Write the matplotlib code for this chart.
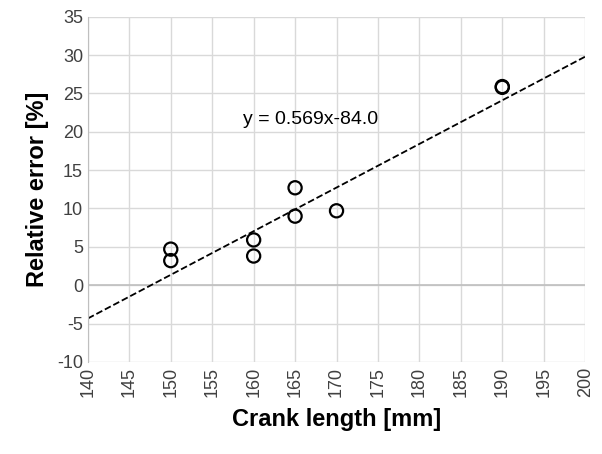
import matplotlib
matplotlib.use("Agg")
import matplotlib.pyplot as plt
import numpy as np

plt.rcParams['font.family'] = ['Liberation Sans', 'DejaVu Sans']
plt.rcParams['axes.unicode_minus'] = False

crank = [150, 150, 160, 160, 165, 165, 170, 190, 190]
err = [4.7, 3.2, 5.9, 3.8, 12.7, 9.0, 9.7, 25.8, 25.9]
slope, intercept = 0.569, -84.0
xticks = list(range(140, 201, 5))
yticks = list(range(-10, 36, 5))

fig = plt.figure(figsize=(6.02, 4.54), dpi=100)
ax = fig.add_axes([0.146, 0.203, 0.826, 0.76])
ax.set_xlim(140, 200)
ax.set_ylim(-10, 35)
ax.set_xticks(xticks)
ax.set_yticks(yticks)
ax.grid(True, color='#d9d9d9', linewidth=1)
ax.set_axisbelow(True)
for s in ['top', 'right', 'bottom']:
    ax.spines[s].set_visible(False)
ax.spines['left'].set_color('#bfbfbf')
ax.axhline(0, color='#bfbfbf', linewidth=1.2)
ax.tick_params(length=0, labelsize=13, colors='#404040')
ax.tick_params(axis='x', labelrotation=90)

xl = np.array([140, 200])
ax.plot(xl, slope * xl + intercept, '--', color='black', linewidth=1.3)
ax.scatter(crank, err, s=90, facecolors='none', edgecolors='black', linewidths=1.6, zorder=3)
ax.text(158.7, 20.5, 'y = 0.569x-84.0', fontsize=14, ha='left', va='bottom')

ax.set_xlabel('Crank length [mm]', fontsize=17, fontweight='bold', labelpad=8)
ax.set_ylabel('Relative error [%]', fontsize=17, fontweight='bold', labelpad=6)
fig.savefig('out.png', dpi=100)
